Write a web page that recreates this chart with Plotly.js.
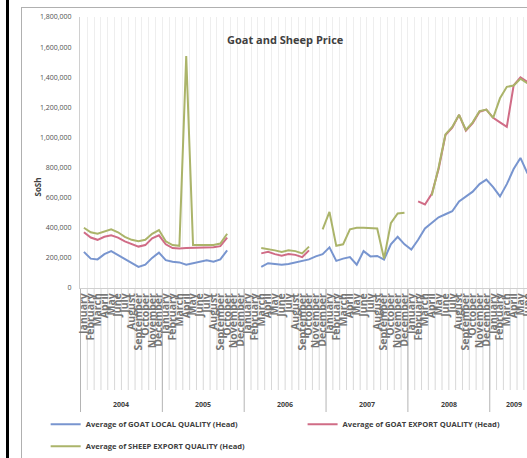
<!DOCTYPE html>
<html><head><meta charset="utf-8">
<script src="https://cdn.plot.ly/plotly-3.0.1.min.js"></script>
<style>
html,body{margin:0;padding:0;width:527px;height:458px;overflow:hidden;background:#fff;}
#edge{position:absolute;left:6px;top:0;width:3px;height:458px;background:#000;}
#frame{position:absolute;left:21px;top:7px;border-left:1px solid #b0b0b0;border-top:1px solid #b0b0b0;}
#chart{width:526px;height:451px;}
</style></head>
<body><div id="edge"></div><div id="frame"><div id="chart"></div></div>
<script>
const years = ['2004','2005','2006','2007','2008','2009'];
const monthsInYear = [12,12,12,12,12,7];
const months = ['January','February','March','April','May','June','July','August','September','October','November','December'];

const goatLocal = [
  240000,195000,190000,225000,245000,220000,195000,170000,140000,155000,200000,235000,
  185000,175000,170000,155000,165000,180000,185000,175000,190000,250000,null,null,
  null,null,140000,165000,160000,155000,160000,170000,180000,190000,210000,225000,
  270000,180000,195000,206000,155000,245000,210000,213000,188000,290000,340000,290000,
  255000,320000,395000,430000,470000,490000,510000,575000,610000,640000,690000,720000,
  670000,608000,690000,790000,864000,764000,720000
];
const goatExport = [
  370000,335000,320000,340000,350000,335000,310000,290000,275000,285000,330000,350000,
  290000,265000,262000,265000,265000,268000,268000,270000,278000,335000,null,null,
  null,null,230000,240000,225000,215000,225000,220000,205000,250000,null,null,
  null,null,null,null,null,null,null,null,null,null,null,null,
  null,575000,555000,625000,790000,1015000,1065000,1150000,1045000,1095000,1170000,1185000,
  1130000,1100000,1070000,1345000,1400000,1370000,1340000
];
const sheepExport = [
  400000,370000,360000,375000,390000,370000,340000,320000,310000,320000,360000,385000,
  310000,285000,280000,1540000,285000,285000,285000,285000,295000,360000,null,null,
  null,null,265000,260000,250000,240000,250000,245000,230000,275000,null,390000,
  505000,280000,290000,390000,400000,400000,400000,395000,195000,430000,495000,500000,
  null,null,null,615000,800000,1020000,1070000,1150000,1050000,1100000,1175000,1185000,
  1130000,1260000,1336000,1345000,1390000,1360000,1330000
];

// category ids (year-month) and their displayed month names
const ids = [], monthText = [], yearStart = [];
years.forEach((y, k) => {
  yearStart.push(ids.length);
  for (let m = 0; m < monthsInYear[k]; m++) { ids.push(y + '-' + months[m]); monthText.push(months[m]); }
});

const traces = [
  {name:'Average of GOAT LOCAL QUALITY (Head)', x:ids, y:goatLocal, type:'scatter', mode:'lines',
   line:{color:'#7895cf', width:2}, connectgaps:false, legend:'legend', legendgroup:'a'},
  {name:'Average of GOAT EXPORT QUALITY (Head)', x:ids, y:goatExport, type:'scatter', mode:'lines',
   line:{color:'#d06c86', width:2}, connectgaps:false, legend:'legend2', legendgroup:'b'},
  {name:'Average of SHEEP EXPORT QUALITY (Head)', x:ids, y:sheepExport, type:'scatter', mode:'lines',
   line:{color:'#abb46a', width:2}, connectgaps:false, legend:'legend', legendgroup:'c'}
];

// year labels, year dividers and month separators positioned on the category axis
const H = 271;
const yearAnn = years.map((y, k) => ({
  text:'<b>' + y + '</b>', xref:'x', yref:'paper', x:yearStart[k] + (monthsInYear[k] - 1) / 2,
  y:(288 - 404) / H, yanchor:'middle', showarrow:false, font:{size:7, color:'#404040'}
}));
const monthSeps = ids.concat([null]).map((_, i) => ({
  type:'line', layer:'below', xref:'x', yref:'paper', x0:i - 0.5, x1:i - 0.5, y0:0, y1:-(390 - 288) / H,
  line:{color:'#d8d8d8', width:1}
}));
const dividers = yearStart.map(s => ({
  type:'line', layer:'below', xref:'x', yref:'paper', x0:s - 0.5, x1:s - 0.5, y0:0, y1:-(412 - 288) / H,
  line:{color:'#b4b4b4', width:1}
}));

const legFont = {size:7.6, weight:'bold', color:'#404040'};
const layout = {
  width:526, height:451,
  margin:{l:58, r:10, t:9, b:171, autoexpand:false},
  paper_bgcolor:'#ffffff', plot_bgcolor:'#ffffff',
  font:{family:'"Open Sans", Arial, sans-serif', color:'#404040'},
  title:{text:'Goat and Sheep Price', x:0.448, xref:'paper', xanchor:'center', y:0.915, yref:'paper', yanchor:'middle',
         font:{size:11, weight:'bold', color:'#404040'}},
  showlegend:true,
  legend:{orientation:'v', x:-0.075, xanchor:'left', xref:'paper', y:0.109, yref:'container', yanchor:'top',
          font:legFont, itemwidth:30, tracegroupgap:3, bgcolor:'rgba(0,0,0,0)'},
  legend2:{orientation:'v', x:0.486, xanchor:'left', xref:'paper', y:0.109, yref:'container', yanchor:'top',
          font:legFont, itemwidth:30, bgcolor:'rgba(0,0,0,0)'},
  xaxis:{type:'category', categoryarray:ids, categoryorder:'array', tickmode:'array', tickvals:ids, ticktext:monthText,
         tickangle:-90, tickfont:{size:10.5, weight:'bold', color:'#767676'}, showgrid:true, gridcolor:'#eeeeee',
         tickson:'boundaries', showline:true, linecolor:'#d0d0d0', ticks:'', zeroline:false, automargin:false},
  yaxis:{range:[0,1800000], dtick:200000, tickformat:',d', tickfont:{size:7, color:'#505050'}, showgrid:false,
         showline:true, linecolor:'#d0d0d0', ticks:'', ticklabelstandoff:6, zeroline:false, automargin:false},
  annotations:[{text:'<b>SoSh</b>', xref:'paper', yref:'paper', x:-0.109, y:0.373, textangle:-90, showarrow:false,
                font:{size:8, color:'#404040'}}].concat(yearAnn),
  shapes:monthSeps.concat(dividers)
};
Plotly.newPlot('chart', traces, layout, {displayModeBar:false, staticPlot:true});
</script></body></html>
